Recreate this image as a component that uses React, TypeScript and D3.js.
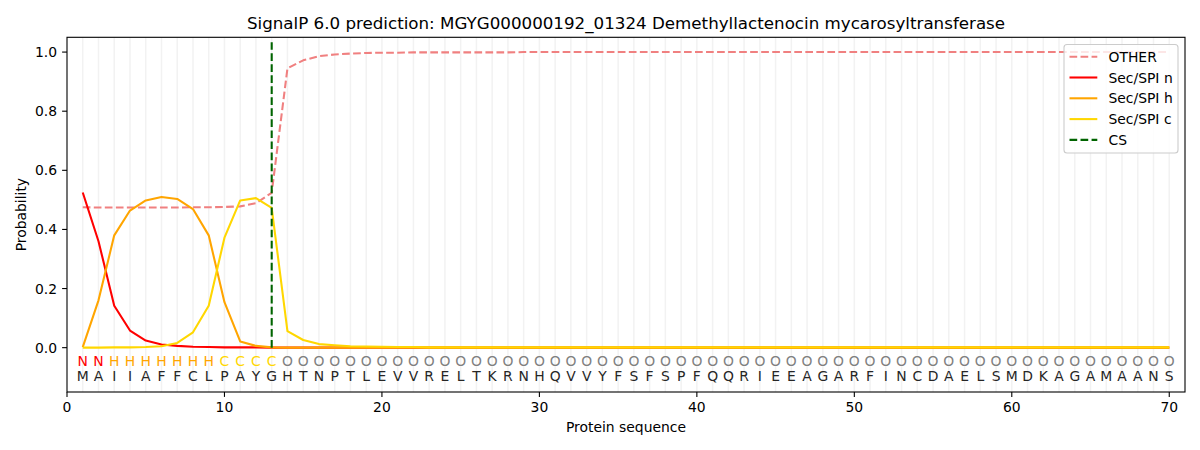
import { useEffect, useRef } from 'react';
import * as d3 from 'd3';

const WIDTH = 1200;
const HEIGHT = 450;
const PLOT = { left: 67, right: 1185, top: 37.3, bottom: 392 };
const FONT = '"DejaVu Sans", sans-serif';

const TITLE =
  'SignalP 6.0 prediction: MGYG000000192_01324 Demethyllactenocin mycarosyltransferase';

// Amino acid sequence, one residue per position (1..70).
const SEQUENCE = [
  'M', 'A', 'I', 'I', 'A', 'F', 'F', 'C', 'L', 'P',
  'A', 'Y', 'G', 'H', 'T', 'N', 'P', 'T', 'L', 'E',
  'V', 'V', 'R', 'E', 'L', 'T', 'K', 'R', 'N', 'H',
  'Q', 'V', 'V', 'Y', 'F', 'S', 'F', 'S', 'P', 'F',
  'Q', 'Q', 'R', 'I', 'E', 'E', 'A', 'G', 'A', 'R',
  'F', 'I', 'N', 'C', 'D', 'A', 'E', 'L', 'S', 'M',
  'D', 'K', 'A', 'G', 'A', 'M', 'A', 'A', 'N', 'S',
];

// Predicted region per residue.
const REGIONS = [
  'N', 'N', 'H', 'H', 'H', 'H', 'H', 'H', 'H', 'C',
  'C', 'C', 'C', 'O', 'O', 'O', 'O', 'O', 'O', 'O',
  'O', 'O', 'O', 'O', 'O', 'O', 'O', 'O', 'O', 'O',
  'O', 'O', 'O', 'O', 'O', 'O', 'O', 'O', 'O', 'O',
  'O', 'O', 'O', 'O', 'O', 'O', 'O', 'O', 'O', 'O',
  'O', 'O', 'O', 'O', 'O', 'O', 'O', 'O', 'O', 'O',
  'O', 'O', 'O', 'O', 'O', 'O', 'O', 'O', 'O', 'O',
];

const OTHER = [
  0.475, 0.474, 0.474, 0.474, 0.474, 0.474, 0.474, 0.475, 0.475, 0.476,
  0.478, 0.489, 0.524, 0.945, 0.972, 0.986, 0.992, 0.995, 0.997, 0.998,
  0.998, 0.999, 0.999, 0.999, 0.999, 0.999, 0.999, 0.999, 1.0, 1.0,
  1.0, 1.0, 1.0, 1.0, 1.0, 1.0, 1.0, 1.0, 1.0, 1.0,
  1.0, 1.0, 1.0, 1.0, 1.0, 1.0, 1.0, 1.0, 1.0, 1.0,
  1.0, 1.0, 1.0, 1.0, 1.0, 1.0, 1.0, 1.0, 1.0, 1.0,
  1.0, 1.0, 1.0, 1.0, 1.0, 1.0, 1.0, 1.0, 1.0, 1.0,
];

const SEC_N = [
  0.525, 0.36, 0.142, 0.058, 0.024, 0.011, 0.006, 0.003, 0.002, 0.001,
  0.001, 0.001, 0.0, 0.0, 0.0, 0.0, 0.0, 0.0, 0.0, 0.0,
  0.0, 0.0, 0.0, 0.0, 0.0, 0.0, 0.0, 0.0, 0.0, 0.0,
  0.0, 0.0, 0.0, 0.0, 0.0, 0.0, 0.0, 0.0, 0.0, 0.0,
  0.0, 0.0, 0.0, 0.0, 0.0, 0.0, 0.0, 0.0, 0.0, 0.0,
  0.0, 0.0, 0.0, 0.0, 0.0, 0.0, 0.0, 0.0, 0.0, 0.0,
  0.0, 0.0, 0.0, 0.0, 0.0, 0.0, 0.0, 0.0, 0.0, 0.0,
];

const SEC_H = [
  0.002, 0.16, 0.38, 0.464, 0.498, 0.51, 0.503, 0.469, 0.38, 0.154,
  0.021, 0.006, 0.001, 0.0, 0.0, 0.0, 0.0, 0.0, 0.0, 0.0,
  0.0, 0.0, 0.0, 0.0, 0.0, 0.0, 0.0, 0.0, 0.0, 0.0,
  0.0, 0.0, 0.0, 0.0, 0.0, 0.0, 0.0, 0.0, 0.0, 0.0,
  0.0, 0.0, 0.0, 0.0, 0.0, 0.0, 0.0, 0.0, 0.0, 0.0,
  0.0, 0.0, 0.0, 0.0, 0.0, 0.0, 0.0, 0.0, 0.0, 0.0,
  0.0, 0.0, 0.0, 0.0, 0.0, 0.0, 0.0, 0.0, 0.0, 0.0,
];

const SEC_C = [
  0.0, 0.0, 0.001, 0.001, 0.002, 0.005, 0.016, 0.052, 0.142, 0.372,
  0.498, 0.506, 0.473, 0.056, 0.026, 0.012, 0.008, 0.005, 0.004, 0.003,
  0.002, 0.002, 0.001, 0.001, 0.001, 0.001, 0.001, 0.001, 0.001, 0.001,
  0.001, 0.001, 0.001, 0.001, 0.001, 0.001, 0.001, 0.001, 0.001, 0.001,
  0.001, 0.001, 0.001, 0.001, 0.001, 0.001, 0.001, 0.001, 0.001, 0.001,
  0.001, 0.001, 0.001, 0.001, 0.001, 0.001, 0.001, 0.001, 0.001, 0.001,
  0.001, 0.001, 0.001, 0.001, 0.001, 0.001, 0.001, 0.001, 0.001, 0.001,
];

const CS_POSITION = 13;
const CS_RANGE = [0, 1.035];

const X_TICKS = [0, 10, 20, 30, 40, 50, 60, 70];
const Y_TICKS = [0, 0.2, 0.4, 0.6, 0.8, 1.0];

const REGION_COLOR: Record<string, string> = {
  N: '#ff0000',
  H: '#ffa500',
  C: '#ffd700',
  O: '#808080',
};

interface Series {
  name: string;
  values: number[];
  color: string;
  dashed: boolean;
}

const SERIES: Series[] = [
  { name: 'OTHER', values: OTHER, color: '#f08080', dashed: true },
  { name: 'Sec/SPI n', values: SEC_N, color: '#ff0000', dashed: false },
  { name: 'Sec/SPI h', values: SEC_H, color: '#ffa500', dashed: false },
  { name: 'Sec/SPI c', values: SEC_C, color: '#ffd700', dashed: false },
];

const LINE_W = 2.08;
const DASH = '7.7,3.33';

export default function App() {
  const svgRef = useRef<SVGSVGElement>(null);

  useEffect(() => {
    if (!svgRef.current) return;
    const svg = d3.select(svgRef.current);
    svg.selectAll('*').remove();

    const x = d3.scaleLinear().domain([0, 71]).range([PLOT.left, PLOT.right]);
    const y = d3.scaleLinear().domain([-0.15, 1.05]).range([PLOT.bottom, PLOT.top]);
    const positions = SEQUENCE.map((_, i) => i + 1);

    svg.append('rect').attr('width', WIDTH).attr('height', HEIGHT).attr('fill', '#fff');

    // ── Residue grid ─────────────────────────────────────────────────────
    svg.append('g')
      .selectAll('line')
      .data(positions)
      .join('line')
      .attr('x1', (d) => x(d))
      .attr('x2', (d) => x(d))
      .attr('y1', PLOT.top)
      .attr('y2', PLOT.bottom)
      .attr('stroke', '#f2f2f2')
      .attr('stroke-width', 1.5);

    // ── Probability curves ───────────────────────────────────────────────
    SERIES.forEach((s) => {
      const line = d3
        .line<number>()
        .x((_, i) => x(i + 1))
        .y((d) => y(d));
      svg.append('path')
        .datum(s.values)
        .attr('fill', 'none')
        .attr('stroke', s.color)
        .attr('stroke-width', LINE_W)
        .attr('stroke-dasharray', s.dashed ? DASH : null)
        .attr('stroke-linejoin', 'round')
        .attr('d', line);
    });

    // Cleavage site
    svg.append('line')
      .attr('x1', x(CS_POSITION))
      .attr('x2', x(CS_POSITION))
      .attr('y1', y(CS_RANGE[0]))
      .attr('y2', y(CS_RANGE[1]))
      .attr('stroke', '#006400')
      .attr('stroke-width', LINE_W)
      .attr('stroke-dasharray', DASH);

    // ── Sequence letters ─────────────────────────────────────────────────
    svg.append('g')
      .selectAll('text')
      .data(REGIONS)
      .join('text')
      .attr('x', (_, i) => x(i + 1))
      .attr('y', y(-0.05) + 4)
      .attr('text-anchor', 'middle')
      .attr('font-family', FONT)
      .attr('font-size', 13.9)
      .attr('fill', (d) => REGION_COLOR[d])
      .text((d) => d);

    svg.append('g')
      .selectAll('text')
      .data(SEQUENCE)
      .join('text')
      .attr('x', (_, i) => x(i + 1))
      .attr('y', y(-0.1) + 4)
      .attr('text-anchor', 'middle')
      .attr('font-family', FONT)
      .attr('font-size', 13.9)
      .attr('fill', '#262626')
      .text((d) => d);

    // ── Axes ─────────────────────────────────────────────────────────────
    svg.append('rect')
      .attr('x', PLOT.left)
      .attr('y', PLOT.top)
      .attr('width', PLOT.right - PLOT.left)
      .attr('height', PLOT.bottom - PLOT.top)
      .attr('fill', 'none')
      .attr('stroke', '#000')
      .attr('stroke-width', 1.1);

    const xAxis = svg.append('g');
    X_TICKS.forEach((t) => {
      xAxis.append('line')
        .attr('x1', x(t)).attr('x2', x(t))
        .attr('y1', PLOT.bottom).attr('y2', PLOT.bottom + 4.9)
        .attr('stroke', '#000').attr('stroke-width', 1.1);
      xAxis.append('text')
        .attr('x', x(t)).attr('y', 412)
        .attr('text-anchor', 'middle')
        .attr('font-family', FONT).attr('font-size', 13.9)
        .text(String(t));
    });

    const yAxis = svg.append('g');
    Y_TICKS.forEach((t) => {
      yAxis.append('line')
        .attr('x1', PLOT.left - 4.9).attr('x2', PLOT.left)
        .attr('y1', y(t)).attr('y2', y(t))
        .attr('stroke', '#000').attr('stroke-width', 1.1);
      yAxis.append('text')
        .attr('x', PLOT.left - 10).attr('y', y(t) + 5)
        .attr('text-anchor', 'end')
        .attr('font-family', FONT).attr('font-size', 13.9)
        .text(t.toFixed(1));
    });

    svg.append('text')
      .attr('x', (PLOT.left + PLOT.right) / 2).attr('y', 432.3)
      .attr('text-anchor', 'middle')
      .attr('font-family', FONT).attr('font-size', 13.9)
      .text('Protein sequence');

    svg.append('text')
      .attr('transform', `translate(26,${(PLOT.top + PLOT.bottom) / 2}) rotate(-90)`)
      .attr('text-anchor', 'middle')
      .attr('font-family', FONT).attr('font-size', 13.9)
      .text('Probability');

    svg.append('text')
      .attr('x', (PLOT.left + PLOT.right) / 2).attr('y', 29)
      .attr('text-anchor', 'middle')
      .attr('font-family', FONT).attr('font-size', 16.7)
      .text(TITLE);

    // ── Legend ───────────────────────────────────────────────────────────
    const legendItems = [
      ...SERIES.map((s) => ({ name: s.name, color: s.color, dashed: s.dashed })),
      { name: 'CS', color: '#006400', dashed: true },
    ];
    const legend = svg.append('g');
    legend.append('rect')
      .attr('x', 1064).attr('y', 44.5)
      .attr('width', 114).attr('height', 108.5)
      .attr('rx', 3)
      .attr('fill', '#fff').attr('fill-opacity', 0.8)
      .attr('stroke', '#cccccc').attr('stroke-width', 1.1);
    legendItems.forEach((item, i) => {
      const cy = 56.7 + i * 20.8;
      legend.append('line')
        .attr('x1', 1069.5).attr('x2', 1097.3)
        .attr('y1', cy).attr('y2', cy)
        .attr('stroke', item.color)
        .attr('stroke-width', LINE_W)
        .attr('stroke-dasharray', item.dashed ? DASH : null);
      legend.append('text')
        .attr('x', 1108.5).attr('y', cy + 5)
        .attr('font-family', FONT).attr('font-size', 13.9)
        .text(item.name);
    });
  }, []);

  return (
    <div style={{ position: 'absolute', left: 0, top: 0 }}>
      <svg ref={svgRef} width={WIDTH} height={HEIGHT} style={{ display: 'block' }} />
    </div>
  );
}
